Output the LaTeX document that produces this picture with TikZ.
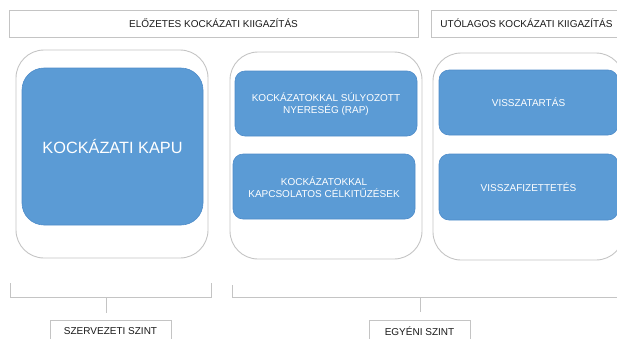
\documentclass[tikz,border=0pt]{standalone}
\usepackage{fontspec}
\setmainfont{Liberation Sans}
\definecolor{bluefill}{HTML}{5B9BD5}
\definecolor{blueedge}{HTML}{4F8CC9}
\definecolor{grayline}{HTML}{C4C4C4}
\definecolor{darktext}{HTML}{1A1A1A}
\begin{document}
\begin{tikzpicture}[x=1pt,y=-1pt,
  hdrbox/.style={draw=grayline,line width=0.9pt,fill=white},
  outerbox/.style={draw=grayline,line width=0.9pt,rounded corners=28pt},
  bluebox/.style={draw=blueedge,line width=0.6pt,fill=bluefill,rounded corners=10pt},
  bigblue/.style={draw=blueedge,line width=0.6pt,fill=bluefill,rounded corners=22pt},
  wtext/.style={text=white,font=\fontsize{10}{12}\selectfont,align=center,inner sep=0pt},
  dtext/.style={text=darktext,font=\fontsize{10}{12}\selectfont,align=center,inner sep=0pt},
  bracket/.style={draw=grayline,line width=0.9pt}]
\useasboundingbox (0,0) rectangle (617,338);
\clip (0,0) rectangle (617,338);
% headers
\draw[hdrbox] (9,10) rectangle (418,37);
\node[dtext] (h1) at (213.5,23.5) {ELŐZETES KOCKÁZATI KIIGAZÍTÁS};
\draw[hdrbox] (431,10) rectangle (640,37);
\node[dtext] (h2) at (526.5,23.5) {UTÓLAGOS KOCKÁZATI KIIGAZÍTÁS};
% outer boxes
\draw[outerbox] (16,50) rectangle (208,258);
\draw[outerbox] (230,52) rectangle (422,259);
\draw[outerbox] (433,53) rectangle (624,260);
% blue boxes
\draw[bigblue] (22,68) rectangle (203,225);
\node[wtext,font=\fontsize{16.3}{20}\selectfont] (kapu) at (112.5,146.5) {KOCKÁZATI KAPU};
\draw[bluebox] (235,71) rectangle (417,136);
\node[wtext] (rap) at (326,104) {KOCKÁZATOKKAL SÚLYOZOTT\\NYERESÉG (RAP)};
\draw[bluebox] (233,154) rectangle (415,219);
\node[wtext] (cel) at (324,187) {KOCKÁZATOKKAL\\KAPCSOLATOS CÉLKITŰZÉSEK};
\draw[bluebox] (439,70) rectangle (618,135);
\node[wtext] (vt) at (528.5,102.5) {VISSZATARTÁS};
\draw[bluebox] (439,154) rectangle (618,220);
\node[wtext] (vf) at (528.5,187) {VISSZAFIZETTETÉS};
% brackets
\draw[bracket] (10,283) -- (10,297) -- (211,297) -- (211,283);
\coordinate (s1a) at (106,297);
\coordinate (s1b) at (106,313);
\draw[bracket] (s1a) -- (s1b);
\draw[bracket] (232,285) -- (232,297) -- (640,297);
\coordinate (s2a) at (420,297);
\coordinate (s2b) at (420,312);
\draw[bracket] (s2a) -- (s2b);
% level labels
\draw[hdrbox] (50,320) rectangle (171,345);
\node[dtext] (szerv) at (110.5,331) {SZERVEZETI SZINT};
\draw[hdrbox] (369,320) rectangle (470,345);
\node[dtext] (egyeni) at (419.5,331) {EGYÉNI SZINT};
\end{tikzpicture}
\end{document}
